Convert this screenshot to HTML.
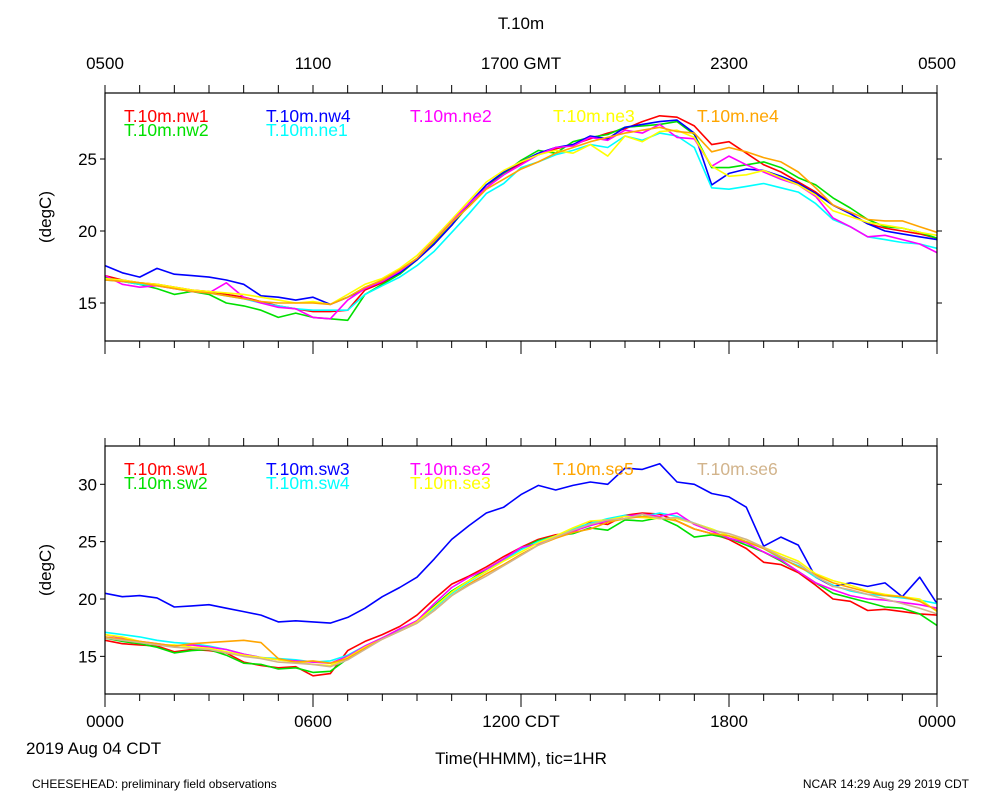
<!DOCTYPE html>
<html><head><meta charset="utf-8"><style>
body{margin:0;background:#fff}
svg{display:block;font-family:"Liberation Sans",sans-serif}
</style></head><body>
<svg id="c" width="1000" height="800"></svg>
<script>
const hours=[];for(let i=0;i<=48;i++)hours.push(i*0.5);
const topNames=["T.10m.nw1","T.10m.nw2","T.10m.nw4","T.10m.ne1","T.10m.ne2","T.10m.ne3","T.10m.ne4"];
const topColors=["#ff0000","#00e000","#0000ff","#00ffff","#ff00ff","#ffff00","#ffa500"];
const nw1=[16.9,16.6,16.4,16.3,16.1,15.9,15.8,15.6,15.4,15.1,14.8,14.6,14.4,14.4,14.5,15.9,16.4,17.1,18.0,19.1,20.4,21.9,23.0,24.0,24.7,25.3,25.7,26.0,26.4,26.8,27.1,27.6,28.0,27.9,27.3,26.0,26.2,25.4,24.6,24.1,23.4,22.7,21.8,21.2,20.5,20.2,20.0,19.8,19.5];
const nw2=[16.8,16.5,16.3,16.0,15.6,15.8,15.6,15.0,14.8,14.5,14.0,14.3,14.0,13.9,13.8,15.6,16.3,17.0,18.0,19.2,20.4,21.8,23.2,24.0,24.9,25.6,25.4,26.2,26.5,26.7,27.2,27.3,27.4,27.6,26.7,24.4,24.4,24.6,24.8,24.4,23.7,23.2,22.3,21.6,20.8,20.3,20.2,19.9,19.5];
const nw4=[17.6,17.1,16.8,17.4,17.0,16.9,16.8,16.6,16.3,15.5,15.4,15.2,15.4,14.9,15.4,16.0,16.5,17.1,18.0,19.1,20.4,21.9,23.2,24.1,24.8,25.4,25.8,26.0,26.6,26.4,27.2,27.4,27.6,27.7,26.8,23.2,24.0,24.3,24.2,23.8,23.3,22.6,21.8,21.2,20.5,20.0,19.8,19.6,19.4];
const ne1=[16.6,16.5,16.3,16.2,16.0,15.8,15.7,15.5,15.3,15.0,14.8,14.6,14.5,14.5,14.5,15.6,16.2,16.8,17.6,18.6,19.9,21.2,22.6,23.3,24.4,24.8,25.3,25.6,26.0,25.8,26.6,26.3,26.8,26.6,25.8,23.0,22.9,23.1,23.3,23.0,22.7,21.9,20.8,20.3,19.6,19.4,19.2,19.1,18.8];
const ne2=[16.9,16.3,16.1,16.2,16.0,15.8,15.7,16.4,15.4,15.0,14.7,14.6,14.0,13.9,15.2,16.0,16.5,17.2,18.1,19.4,20.7,21.9,23.0,23.9,24.6,25.3,25.8,25.9,26.5,26.3,27.0,26.8,27.4,26.5,26.4,24.5,25.2,24.6,24.1,23.6,23.2,22.4,20.9,20.3,19.6,19.7,19.4,19.1,18.5];
const ne3=[16.7,16.6,16.4,16.3,16.1,15.9,15.8,15.7,15.6,15.4,15.2,15.0,15.1,14.9,15.6,16.3,16.7,17.4,18.3,19.5,20.8,22.1,23.4,24.2,24.8,25.3,25.6,25.4,26.0,25.2,26.6,26.2,26.9,27.0,26.5,24.5,23.8,23.9,24.2,23.7,23.2,22.5,21.4,21.0,20.6,20.4,20.2,19.9,19.7];
const ne4=[16.6,16.5,16.4,16.2,16.0,15.8,15.7,15.5,15.3,15.1,15.0,15.0,15.0,14.9,15.4,16.1,16.6,17.3,18.1,19.3,20.6,21.7,22.9,23.6,24.3,24.8,25.4,25.8,26.2,26.5,26.8,27.0,27.2,26.9,26.8,25.5,25.8,25.5,25.1,24.8,24.1,23.0,21.8,21.3,20.8,20.7,20.7,20.3,19.9];
const botNames=["T.10m.sw1","T.10m.sw2","T.10m.sw3","T.10m.sw4","T.10m.se2","T.10m.se3","T.10m.se5","T.10m.se6"];
const botColors=["#ff0000","#00e000","#0000ff","#00ffff","#ff00ff","#ffff00","#ffa500","#d2b48c"];
const sw1=[16.4,16.1,16.0,15.9,15.4,15.6,15.5,15.3,14.5,14.2,14.0,14.1,13.3,13.5,15.5,16.3,16.9,17.6,18.6,20.0,21.3,22.0,22.8,23.7,24.5,25.2,25.6,25.8,26.7,26.5,27.3,27.5,27.4,26.8,26.1,25.7,25.2,24.4,23.2,23.0,22.3,21.2,20.0,19.8,19.0,19.1,18.9,18.7,18.6];
const sw2=[16.6,16.3,16.1,15.8,15.3,15.5,15.6,15.1,14.4,14.3,13.9,14.0,13.6,13.7,14.8,15.8,16.6,17.3,18.1,19.4,20.7,21.6,22.6,23.5,24.4,25.1,25.5,25.7,26.2,26.0,26.9,26.8,27.1,26.4,25.4,25.6,25.3,24.7,24.1,23.3,22.4,21.4,20.5,20.1,19.7,19.3,19.2,18.7,17.7];
const sw3=[20.5,20.2,20.3,20.1,19.3,19.4,19.5,19.2,18.9,18.6,18.0,18.1,18.0,17.9,18.4,19.2,20.2,21.0,21.9,23.5,25.2,26.4,27.5,28.0,29.1,29.9,29.5,29.9,30.2,30.0,31.4,31.3,31.8,30.2,30.0,29.2,28.9,28.0,24.6,25.4,24.7,21.9,21.1,21.4,21.1,21.4,20.2,21.9,19.6];
const sw4=[17.1,16.9,16.7,16.4,16.2,16.1,15.9,15.6,15.2,14.9,14.8,14.7,14.5,14.6,15.1,15.9,16.6,17.3,18.0,19.2,20.5,21.5,22.4,23.4,24.3,25.0,25.5,26.1,26.6,27.0,27.3,27.2,27.5,27.2,26.6,26.1,25.5,25.0,24.4,23.5,22.9,21.9,21.2,20.7,20.4,20.3,20.1,19.9,19.6];
const se2=[16.9,16.6,16.3,16.1,15.9,16.0,15.8,15.6,15.2,14.9,14.7,14.6,14.5,14.4,15.0,15.9,16.6,17.4,18.1,19.6,21.0,21.9,22.6,23.5,24.5,24.8,25.4,25.9,26.4,26.8,27.2,27.4,27.2,27.5,26.5,25.9,25.3,24.9,24.1,23.4,22.4,21.4,20.8,20.3,20.0,19.9,19.7,19.5,19.2];
const se3=[16.9,16.7,16.3,16.0,16.0,15.8,15.7,15.4,15.1,14.9,14.7,14.5,14.3,14.2,14.9,15.8,16.5,17.2,18.0,19.3,20.6,21.6,22.4,23.3,24.1,24.9,25.5,26.2,26.8,26.9,27.2,27.1,27.0,27.0,26.6,26.1,25.5,25.2,24.5,23.9,23.3,22.2,21.6,21.2,20.7,20.4,20.2,20.0,18.9];
const se5=[16.7,16.5,16.3,16.1,15.9,16.1,16.2,16.3,16.4,16.2,14.8,14.5,14.6,14.4,14.8,15.7,16.5,17.2,17.9,19.0,20.3,21.3,22.2,23.0,23.9,24.7,25.3,25.8,26.1,26.7,27.0,27.2,27.1,26.8,26.1,25.7,25.5,25.0,24.4,23.6,22.8,22.1,21.4,21.0,20.6,20.3,20.2,19.8,19.0];
const se6=[16.6,16.4,16.2,16.0,15.8,15.7,15.6,15.3,15.0,14.8,14.5,14.4,14.3,14.1,14.7,15.6,16.5,17.2,17.9,19.0,20.3,21.2,22.0,22.9,23.8,24.7,25.4,26.0,26.5,26.9,27.0,27.4,27.0,27.1,26.6,26.0,25.7,25.2,24.5,23.7,23.1,22.0,21.1,20.8,20.4,20.0,19.6,19.2,18.7];
const topTickVals=[15,20,25];
const botTickVals=[15,20,25,30];
const gmtLabels=["0500","1100","1700 GMT","2300","0500"];
const cdtLabels=["0000","0600","1200 CDT","1800","0000"];

const svg=document.getElementById('c');
const NS="http://www.w3.org/2000/svg";
function el(tag,attrs,parent){const e=document.createElementNS(NS,tag);for(const k in attrs)e.setAttribute(k,attrs[k]);(parent||svg).appendChild(e);return e;}
function txt(s,x,y,size,anchor,color,parent){const t=el('text',{x:x,y:y,'font-size':size,'text-anchor':anchor,fill:color},parent);t.textContent=s;return t;}
const X0=105,X1=937;
const xs=h=>X0+h*(X1-X0)/24;

function panel(name,top,bot,yref,vref,pxPerDeg,ticks,series,names,colors,legPos){
  const g=el('g',{});
  
  
  const ys=v=>yref+(vref-v)*pxPerDeg;
  const clip=el('clipPath',{id:name+'-clip'},g);
  el('rect',{x:X0,y:top,width:X1-X0,height:bot-top},clip);
  const lines=el('g',{'clip-path':'url(#'+name+'-clip)'},g);
  series.forEach((s,i)=>{
    const d=s.map((v,j)=>(j?'L':'M')+xs(hours[j]).toFixed(1)+','+ys(v).toFixed(1)).join('');
    const p=el('path',{d:d,fill:'none',stroke:colors[i],'stroke-width':1.6,'stroke-linejoin':'round'},lines);
    
    
  });
  const fr=el('rect',{x:X0,y:top,width:X1-X0,height:bot-top,fill:'none',stroke:'#000','stroke-width':1.2},g);
  
  
  for(let h=0;h<=24;h++){
    const x=xs(h),maj=h%6===0;
    el('line',{x1:x,y1:top,x2:x,y2:top-8,stroke:'#000','stroke-width':1},g);
    el('line',{x1:x,y1:bot,x2:x,y2:bot+(maj?13:7),stroke:'#000','stroke-width':1},g);
  }
  ticks.forEach(v=>{
    const y=ys(v);
    el('line',{x1:X0-5,y1:y,x2:X0,y2:y,stroke:'#000'},g);
    el('line',{x1:X1,y1:y,x2:X1+5,y2:y,stroke:'#000'},g);
    const t=txt(String(v),97,y+6,17,'end','#000',g);
    
    
  });
  const yt=txt('(degC)',0,0,17,'middle','#000',g);
  yt.setAttribute('transform','translate(51,'+((top+bot)/2)+') rotate(-90)');
  
  
  names.forEach((n,i)=>{
    const t=txt(n,legPos[i][0],top+29+legPos[i][1]*14,17.5,'start',colors[i],g);
    
    
  });
}
panel('top-panel',93,341,159,25,14.4,topTickVals,[nw1,nw2,nw4,ne1,ne2,ne3,ne4],topNames,topColors,
  [[124,0],[124,1],[266,0],[266,1],[410,0],[553,0],[697,0]]);
panel('bottom-panel',446,694,484.3,30,11.47,botTickVals,[sw1,sw2,sw3,sw4,se2,se3,se5,se6],botNames,botColors,
  [[124,0],[124,1],[266,0],[266,1],[410,0],[410,1],[553,0],[697,0]]);

let t=txt('T.10m',521,29,17,'middle','#000');


gmtLabels.forEach((s,i)=>{const e=txt(s,xs(i*6),69,17,'middle','#000');

});
cdtLabels.forEach((s,i)=>{const e=txt(s,xs(i*6),727,17,'middle','#000');

});
t=txt('2019 Aug 04 CDT',26,754,17,'start','#000');


t=txt('Time(HHMM), tic=1HR',521,764,17,'middle','#000');


t=txt('CHEESEHEAD: preliminary field observations',32,788,12,'start','#000');


t=txt('NCAR 14:29 Aug 29 2019 CDT',969,788,12,'end','#000');


</script>
</body></html>
